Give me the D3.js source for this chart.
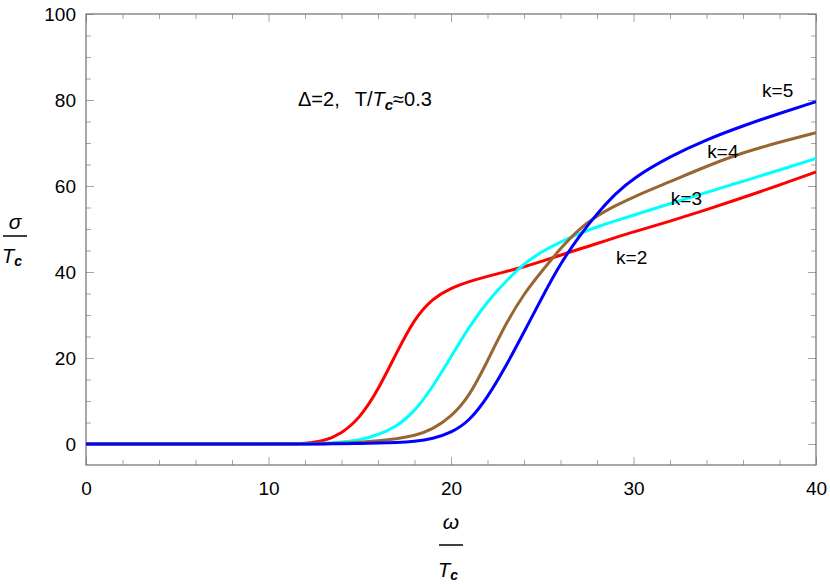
<!DOCTYPE html>
<html><head><meta charset="utf-8">
<script src="https://cdn.jsdelivr.net/npm/d3@7"></script>
<style>
body{margin:0;background:#fff;}
svg text{font-family:"Liberation Sans",Arial,sans-serif;}
</style></head>
<body>
<svg id="chart" width="830" height="585"></svg>
<script>
const omega = [0,10,11,12,13,14,15,16,17,18,19,20,21,22,23,24,25,26,27,28,29,30,32,34,36,38,40];
const sigmaK2 = [0,0,0.02,0.15,0.6,2.4,6.0,12.5,21.1,29.2,33.9,36.3,37.8,39.0,40.1,41.2,42.5,43.9,45.3,46.6,48.0,49.3,51.8,54.5,57.3,60.2,63.3];
const sigmaK3 = [0,0,0,0.05,0.15,0.4,0.9,2.1,4.0,7.5,13.3,20.3,27.3,33.2,37.8,42.0,44.8,47.0,48.9,50.5,51.9,53.2,55.9,58.5,61.1,63.7,66.4];
const sigmaK4 = [0,0,0,0.02,0.08,0.2,0.4,0.75,1.2,1.9,3.4,6.3,11.0,19.3,28.0,35.0,40.3,45.5,50.0,53.1,55.4,57.5,61.0,64.6,67.8,70.2,72.4];
const sigmaK5 = [0,0,0,0.01,0.03,0.06,0.1,0.2,0.35,0.6,1.2,2.6,5.3,10.8,18.0,26.0,34.2,42.0,48.2,53.6,58.2,61.9,66.9,70.8,74.0,76.9,79.6];
const seriesNames = ["k=2","k=3","k=4","k=5"];
const seriesColors = ["#ff0000","#00ffff","#996633","#0000ff"];
const labelOmega = [29.9,32.9,34.9,37.9];
const labelSigma = [43.3,57.2,68.1,82.3];
const xTicks = [0,10,20,30,40];
const yTicks = [0,20,40,60,80,100];

const svg = d3.select("#chart");
const L=86, R=816, T=14, B=465;
const x = d3.scaleLinear().domain([0,40]).range([L,R]);
const y = d3.scaleLinear().domain([-4.88,100]).range([B,T]);

svg.append("defs").append("clipPath").attr("id","clip")
  .append("rect").attr("x",L).attr("y",T).attr("width",R-L).attr("height",B-T);

const frameColor="#6e6e6e", tickColor="#a5a5a5";
function styleAxis(g){
  g.select(".domain").remove();
  g.selectAll(".tick line").attr("stroke",tickColor).attr("stroke-width",1);
  g.selectAll(".tick text").attr("font-size","19px").attr("fill","#000");
}
const xMinor = d3.range(0,40.01,2).filter(v=>v%10!==0);
const yMinor = d3.range(-5,100.01,5).filter(v=>v%20!==0 && v>=-4.88);

const gb = svg.append("g").attr("transform",`translate(0,${B})`)
  .call(d3.axisBottom(x).tickValues(xTicks).tickSize(-8).tickPadding(17).tickFormat(d3.format("d")));
styleAxis(gb);
svg.append("g").attr("transform",`translate(0,${B})`)
  .call(d3.axisBottom(x).tickValues(xMinor).tickSize(-5).tickFormat("")).call(styleAxis);
svg.append("g").attr("transform",`translate(0,${T})`)
  .call(d3.axisTop(x).tickValues(xTicks).tickSize(-8).tickFormat("")).call(styleAxis);
svg.append("g").attr("transform",`translate(0,${T})`)
  .call(d3.axisTop(x).tickValues(xMinor).tickSize(-5).tickFormat("")).call(styleAxis);
const gl = svg.append("g").attr("transform",`translate(${L},0)`)
  .call(d3.axisLeft(y).tickValues(yTicks).tickSize(-8).tickPadding(10).tickFormat(d3.format("d")));
styleAxis(gl);
svg.append("g").attr("transform",`translate(${L},0)`)
  .call(d3.axisLeft(y).tickValues(yMinor).tickSize(-5).tickFormat("")).call(styleAxis);
svg.append("g").attr("transform",`translate(${R},0)`)
  .call(d3.axisRight(y).tickValues(yTicks).tickSize(-8).tickFormat("")).call(styleAxis);
svg.append("g").attr("transform",`translate(${R},0)`)
  .call(d3.axisRight(y).tickValues(yMinor).tickSize(-5).tickFormat("")).call(styleAxis);

svg.append("rect").attr("x",L).attr("y",T).attr("width",R-L).attr("height",B-T)
  .attr("fill","none").attr("stroke",frameColor).attr("stroke-width",1.2);

const allSeries=[sigmaK2,sigmaK3,sigmaK4,sigmaK5];
const line = d3.line().x((d,i)=>x(omega[i])).y(d=>y(d)).curve(d3.curveBasis);
const gc = svg.append("g").attr("clip-path","url(#clip)");
allSeries.forEach((s,i)=>{
  gc.append("path").datum(s).attr("d",line).attr("fill","none")
    .attr("stroke",seriesColors[i]).attr("stroke-width",3).attr("stroke-linejoin","round");
});

seriesNames.forEach((n,i)=>{
  svg.append("text").attr("x",x(labelOmega[i])).attr("y",y(labelSigma[i]))
    .attr("text-anchor","middle").attr("dominant-baseline","central")
    .attr("font-size","19px").attr("fill","#000").text(n);
});

const ann = svg.append("text").attr("x",298).attr("y",106).attr("font-size","20px").attr("fill","#000");
ann.append("tspan").text("\u0394=2,");
ann.append("tspan").attr("dx",15).text("T/");
ann.append("tspan").attr("font-style","italic").text("T");
ann.append("tspan").attr("font-style","italic").attr("font-weight","bold").attr("font-size","15px").attr("dy",4).text("c");
ann.append("tspan").attr("dy",-4).text("\u22480.3");

function fracLabel(cx, ty, lineY, by, top){
  svg.append("text").attr("x",cx).attr("y",ty).attr("text-anchor","middle")
    .attr("font-size","21px").attr("font-style","italic").text(top);
  svg.append("line").attr("x1",cx-12).attr("x2",cx+12).attr("y1",lineY).attr("y2",lineY)
    .attr("stroke","#000").attr("stroke-width",1.5);
  const t = svg.append("text").attr("x",cx-3).attr("y",by).attr("text-anchor","middle")
    .attr("font-size","20px");
  t.append("tspan").attr("font-style","italic").text("T");
  t.append("tspan").attr("font-style","italic").attr("font-weight","bold").attr("font-size","14px").attr("dy",3).text("c");
}
fracLabel(15, 229, 236, 263, "\u03c3");
fracLabel(451, 529, 545, 577, "\u03c9");
</script>
</body></html>
